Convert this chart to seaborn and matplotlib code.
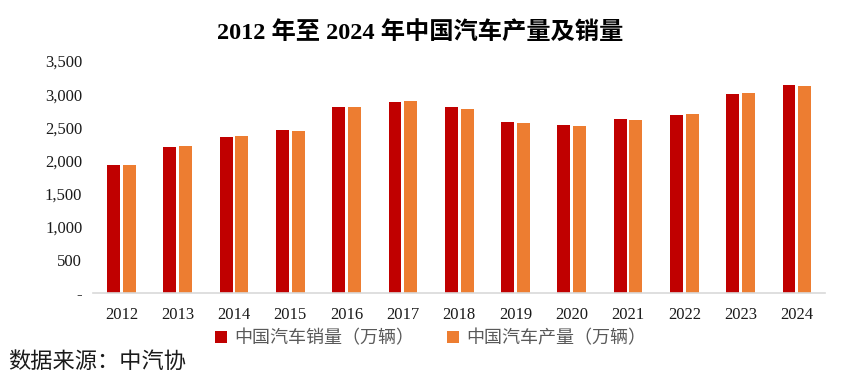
import pandas as pd
import matplotlib
matplotlib.use("Agg")
import matplotlib.pyplot as plt
from matplotlib.ticker import FuncFormatter
from matplotlib.patches import Patch
import seaborn as sns

years = ["2012", "2013", "2014", "2015", "2016", "2017", "2018",
         "2019", "2020", "2021", "2022", "2023", "2024"]
sales = [1930.6, 2198.4, 2349.2, 2459.8, 2802.8, 2887.9, 2808.1,
         2576.9, 2531.1, 2627.5, 2686.4, 3009.4, 3143.6]
production = [1927.2, 2211.7, 2372.3, 2450.3, 2811.9, 2901.5, 2780.9,
              2572.1, 2522.5, 2608.2, 2702.1, 3016.1, 3128.2]
series_names = ["中国汽车销量（万辆）", "中国汽车产量（万辆）"]
colors = ["#C00000", "#ED7D31"]

df = pd.DataFrame({
    "year": years * 2,
    "value": sales + production,
    "series": [series_names[0]] * len(years) + [series_names[1]] * len(years),
})

sns.set_style("white")
serif = ["Liberation Serif", "Noto Sans CJK SC"]
cjk = ["Noto Sans CJK SC", "DejaVu Sans"]
plt.rcParams["font.family"] = serif

fig = plt.figure(figsize=(8.41, 3.77), dpi=100)
ax = fig.add_axes([0.111, 0.2228, 0.870, 0.6152])

sns.barplot(data=df, x="year", y="value", hue="series", order=years,
            hue_order=series_names, palette=colors, width=0.56, gap=0.18,
            linewidth=0, saturation=1, legend=False, ax=ax)

ax.set_xlim(-0.5, len(years) - 0.5)
ax.set_ylim(0, 3500)
ax.set_yticks(range(0, 3501, 500))
ax.yaxis.set_major_formatter(FuncFormatter(lambda v, p: "-" if v == 0 else f"{int(v):,}"))
ax.set_xlabel("")
ax.set_ylabel("")

for s in ["top", "right", "left"]:
    ax.spines[s].set_visible(False)
ax.spines["bottom"].set_color("#D9D9D9")
ax.spines["bottom"].set_linewidth(1.2)
ax.tick_params(axis="both", length=0, labelsize=12, colors="#1a1a1a")
ax.tick_params(axis="x", pad=10)
ax.tick_params(axis="y", pad=8)

fig.text(0.5, 0.915, "2012 年至 2024 年中国汽车产量及销量", ha="center", va="center",
         fontsize=17.5, fontweight="bold", family=serif, color="black")

handles = [Patch(facecolor=c, edgecolor="none") for c in colors]
leg = fig.legend(handles, series_names, loc="center", bbox_to_anchor=(0.512, 0.103),
                 ncol=2, frameon=False, handlelength=0.65, handleheight=0.65,
                 handletextpad=0.4, columnspacing=1.8,
                 prop={"family": cjk, "size": 13})
for t in leg.get_texts():
    t.set_color("#595959")

fig.text(0.01, 0.04, "数据来源：中汽协", ha="left", va="center",
         fontsize=16, family=cjk, color="#1a1a1a")

fig.savefig("out.png", dpi=100)
